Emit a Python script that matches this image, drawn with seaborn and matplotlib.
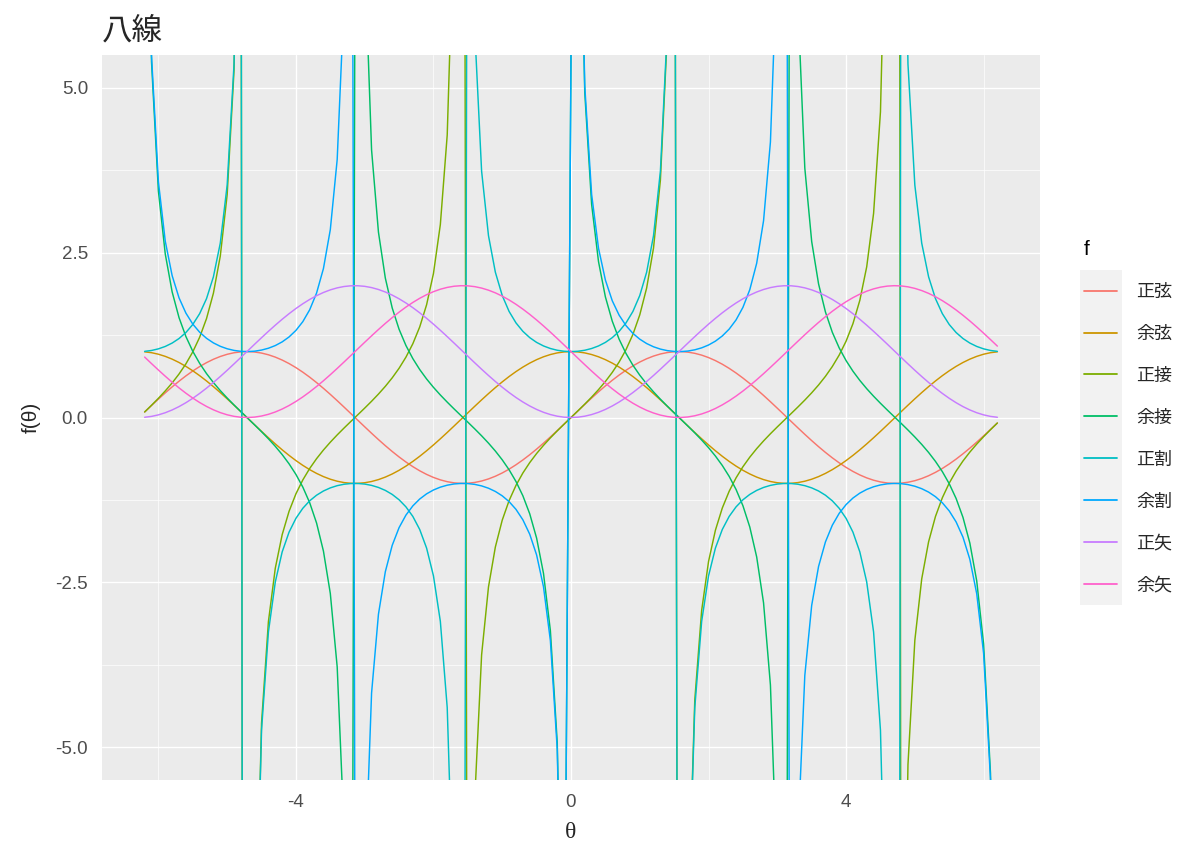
import numpy as np
import pandas as pd
import matplotlib.pyplot as plt
import seaborn as sns
from matplotlib.patches import Rectangle

# theta grid (-6.2 .. 6.2, one point every 0.1) and the sine / cosine read at those points
theta = [-6.2, -6.1, -6.0, -5.9, -5.8, -5.7, -5.6, -5.5, -5.4, -5.3,
         -5.2, -5.1, -5.0, -4.9, -4.8, -4.7, -4.6, -4.5, -4.4, -4.3,
         -4.2, -4.1, -4.0, -3.9, -3.8, -3.7, -3.6, -3.5, -3.4, -3.3,
         -3.2, -3.1, -3.0, -2.9, -2.8, -2.7, -2.6, -2.5, -2.4, -2.3,
         -2.2, -2.1, -2.0, -1.9, -1.8, -1.7, -1.6, -1.5, -1.4, -1.3,
         -1.2, -1.1, -1.0, -0.9, -0.8, -0.7, -0.6, -0.5, -0.4, -0.3,
         -0.2, -0.1, 0.0,
         0.1, 0.2, 0.3, 0.4, 0.5, 0.6, 0.7, 0.8, 0.9, 1.0,
         1.1, 1.2, 1.3, 1.4, 1.5, 1.6, 1.7, 1.8, 1.9, 2.0,
         2.1, 2.2, 2.3, 2.4, 2.5, 2.6, 2.7, 2.8, 2.9, 3.0,
         3.1, 3.2, 3.3, 3.4, 3.5, 3.6, 3.7, 3.8, 3.9, 4.0,
         4.1, 4.2, 4.3, 4.4, 4.5, 4.6, 4.7, 4.8, 4.9, 5.0,
         5.1, 5.2, 5.3, 5.4, 5.5, 5.6, 5.7, 5.8, 5.9, 6.0,
         6.1, 6.2]

sin_vals = [0.0831, 0.1822, 0.2794, 0.3739, 0.4646, 0.5507, 0.6313, 0.7055, 0.7728, 0.8323,
            0.8835, 0.9258, 0.9589, 0.9825, 0.9962, 0.9999, 0.9937, 0.9775, 0.9516, 0.9162,
            0.8716, 0.8183, 0.7568, 0.6878, 0.6119, 0.5298, 0.4425, 0.3508, 0.2555, 0.1577,
            0.0584, -0.0416, -0.1411, -0.2392, -0.3350, -0.4274, -0.5155, -0.5985, -0.6755, -0.7457,
            -0.8085, -0.8632, -0.9093, -0.9463, -0.9738, -0.9917, -0.9996, -0.9975, -0.9854, -0.9636,
            -0.9320, -0.8912, -0.8415, -0.7833, -0.7174, -0.6442, -0.5646, -0.4794, -0.3894, -0.2955,
            -0.1987, -0.0998, 0.0,
            0.0998, 0.1987, 0.2955, 0.3894, 0.4794, 0.5646, 0.6442, 0.7174, 0.7833, 0.8415,
            0.8912, 0.9320, 0.9636, 0.9854, 0.9975, 0.9996, 0.9917, 0.9738, 0.9463, 0.9093,
            0.8632, 0.8085, 0.7457, 0.6755, 0.5985, 0.5155, 0.4274, 0.3350, 0.2392, 0.1411,
            0.0416, -0.0584, -0.1577, -0.2555, -0.3508, -0.4425, -0.5298, -0.6119, -0.6878, -0.7568,
            -0.8183, -0.8716, -0.9162, -0.9516, -0.9775, -0.9937, -0.9999, -0.9962, -0.9825, -0.9589,
            -0.9258, -0.8835, -0.8323, -0.7728, -0.7055, -0.6313, -0.5507, -0.4646, -0.3739, -0.2794,
            -0.1822, -0.0831]

cos_vals = [0.9965, 0.9833, 0.9602, 0.9275, 0.8855, 0.8347, 0.7756, 0.7087, 0.6347, 0.5544,
            0.4685, 0.3780, 0.2837, 0.1865, 0.0875, -0.0124, -0.1122, -0.2108, -0.3073, -0.4008,
            -0.4903, -0.5748, -0.6536, -0.7259, -0.7910, -0.8481, -0.8968, -0.9365, -0.9668, -0.9875,
            -0.9983, -0.9991, -0.9900, -0.9710, -0.9422, -0.9041, -0.8569, -0.8011, -0.7374, -0.6663,
            -0.5885, -0.5048, -0.4161, -0.3233, -0.2272, -0.1288, -0.0292, 0.0707, 0.1700, 0.2675,
            0.3624, 0.4536, 0.5403, 0.6216, 0.6967, 0.7648, 0.8253, 0.8776, 0.9211, 0.9553,
            0.9801, 0.9950, 1.0,
            0.9950, 0.9801, 0.9553, 0.9211, 0.8776, 0.8253, 0.7648, 0.6967, 0.6216, 0.5403,
            0.4536, 0.3624, 0.2675, 0.1700, 0.0707, -0.0292, -0.1288, -0.2272, -0.3233, -0.4161,
            -0.5048, -0.5885, -0.6663, -0.7374, -0.8011, -0.8569, -0.9041, -0.9422, -0.9710, -0.9900,
            -0.9991, -0.9983, -0.9875, -0.9668, -0.9365, -0.8968, -0.8481, -0.7910, -0.7259, -0.6536,
            -0.5748, -0.4903, -0.4008, -0.3073, -0.2108, -0.1122, -0.0124, 0.0875, 0.1865, 0.2837,
            0.3780, 0.4685, 0.5544, 0.6347, 0.7087, 0.7756, 0.8347, 0.8855, 0.9275, 0.9602,
            0.9833, 0.9965]

names = ['正弦', '余弦', '正接', '余接', '正割', '余割', '正矢', '余矢']
colors = ['#F8766D', '#CD9600', '#7CAE00', '#00BE67', '#00BFC4', '#00A9FF', '#C77CFF', '#FF61CC']

x_ticks = [-4, 0, 4]
x_tick_labels = ['-4', '0', '4']
y_ticks = [-5.0, -2.5, 0.0, 2.5, 5.0]
y_tick_labels = ['-5.0', '-2.5', '0.0', '2.5', '5.0']

# the eight lines, from sine and cosine
s = np.array(sin_vals)
c = np.array(cos_vals)
with np.errstate(divide='ignore', invalid='ignore'):
    lines = [s, c, s / c, c / s, 1 / c, 1 / s, 1 - c, 1 - s]

ylo, yhi = -5.5, 5.5
xlo, xhi = -6.82, 6.82

frames = []
for nm, v in zip(names, lines):
    # ggplot puts infinite values on the panel edge
    v = np.where(np.isposinf(v), yhi, v)
    v = np.where(np.isneginf(v), ylo, v)
    frames.append(pd.DataFrame({'theta': theta, 'value': v, 'f': nm}))
df = pd.concat(frames, ignore_index=True)

sns.set_style('white')
plt.rcParams['font.family'] = ['Liberation Sans', 'Noto Sans CJK JP', 'DejaVu Sans']

fig = plt.figure(figsize=(12, 8.57), dpi=100)
ax = fig.add_axes([102 / 1200, 1 - 780 / 857, 938 / 1200, 725 / 857])
ax.set_facecolor('#EBEBEB')

sns.lineplot(data=df, x='theta', y='value', hue='f', hue_order=names,
             palette=colors, linewidth=1.05, estimator=None, sort=False, ax=ax)

ax.set_xlim(xlo, xhi)
ax.set_ylim(ylo, yhi)
ax.set_xticks(x_ticks)
ax.set_xticklabels(x_tick_labels)
ax.set_yticks(y_ticks)
ax.set_yticklabels(y_tick_labels)
ax.set_xticks([-6, -2, 2, 6], minor=True)
ax.set_yticks([-3.75, -1.25, 1.25, 3.75], minor=True)
ax.grid(which='major', color='white', linewidth=1.0)
ax.grid(which='minor', color='white', linewidth=0.5)
ax.set_axisbelow(True)
for sp in ax.spines.values():
    sp.set_visible(False)
ax.tick_params(which='major', length=3.8, width=0.9, color='#333333',
               labelcolor='#4D4D4D', labelsize=13.5, pad=6.3)
ax.tick_params(which='minor', length=0)

ax.set_xlabel('θ', fontsize=17, labelpad=8, family=['Liberation Serif', 'DejaVu Serif'])
ax.set_ylabel('f(θ)', fontsize=15, labelpad=10.5)
ax.set_title('八線', loc='left', fontsize=22, pad=11)

handles, labels = ax.get_legend_handles_labels()
ax.get_legend().remove()
for h in handles:
    h.set_linewidth(1.3)
leg = fig.legend(handles, labels, title='f', loc='upper left',
                 bbox_to_anchor=(1084 / 1200, 1 - 240 / 857), frameon=False,
                 fontsize=13, title_fontsize=15, labelspacing=1.38,
                 handlelength=1.83, handletextpad=1.05, alignment='left',
                 borderpad=0, borderaxespad=0)
leg.get_title().set_color('black')

# grey key background, like ggplot's legend keys
fig.canvas.draw()
r = fig.canvas.get_renderer()
boxes = [h.get_window_extent(r) for h in leg.legend_handles]
x0 = min(b.x0 for b in boxes) - 4
x1 = max(b.x1 for b in boxes) + 5
ytop = max(b.y1 for b in boxes) + 20.6
ybot = min(b.y0 for b in boxes) - 20.6
fig.patches.append(Rectangle((x0 / 1200, ybot / 857), (x1 - x0) / 1200, (ytop - ybot) / 857,
                             transform=fig.transFigure, facecolor='#F2F2F2',
                             edgecolor='none', zorder=0))

fig.savefig('out.png', dpi=100)
